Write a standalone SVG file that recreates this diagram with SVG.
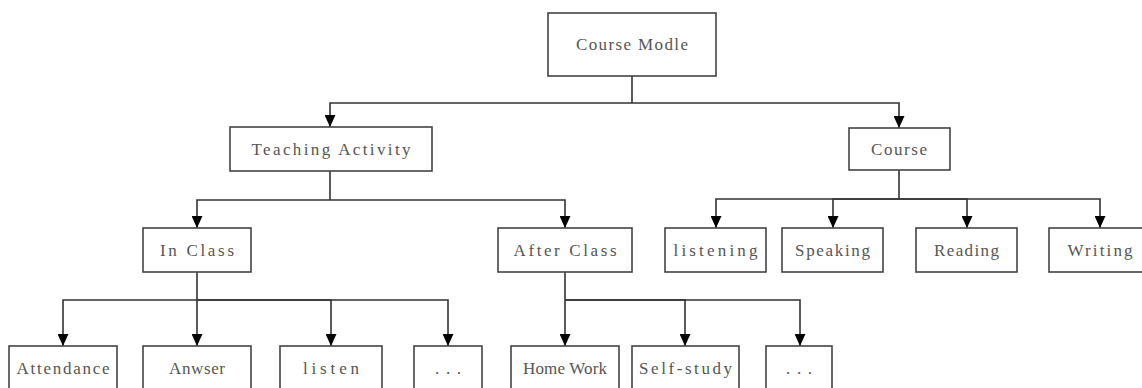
<svg xmlns="http://www.w3.org/2000/svg" width="1142" height="388" viewBox="0 0 1142 388">
<style>
.box rect{fill:#fff;stroke:#444;stroke-width:1.6}
.box text{font-family:"Liberation Serif",serif;font-size:17px;fill:#555;text-anchor:middle;dominant-baseline:central}
.conn path{fill:none;stroke:#333;stroke-width:1.6;marker-end:url(#ah)}
.conn .ln{marker-end:none}
</style>
<defs>
<marker id="ah" markerWidth="12" markerHeight="11" refX="12" refY="5.5" orient="auto" markerUnits="userSpaceOnUse">
<path d="M0,0 L12,5.5 L0,11 Z" fill="#000"/>
</marker>
</defs>
<rect width="1142" height="388" fill="#fff"/>
<g class="conn" id="connectors">
<path class="ln" d="M632,76 V103"/>
<path d="M632,103 H330 V127"/>
<path d="M632,103 H899 V128"/>
<path class="ln" d="M330,171 V200"/>
<path d="M330,200 H197 V228"/>
<path d="M330,200 H565 V228"/>
<path class="ln" d="M899,170 V199"/>
<path d="M899,199 H716 V228"/>
<path d="M899,199 H833 V228"/>
<path d="M899,199 H967 V228"/>
<path d="M899,199 H1100 V228"/>
<path class="ln" d="M197,272 V300"/>
<path d="M197,300 H63 V346"/>
<path d="M197,300 V346"/>
<path d="M197,300 H331 V346"/>
<path d="M197,300 H448 V346"/>
<path class="ln" d="M565,272 V300"/>
<path d="M565,300 V346"/>
<path d="M565,300 H685 V346"/>
<path d="M565,300 H800 V346"/>
</g>
<g class="box" id="n-course-modle"><rect x="548" y="13" width="168" height="63"/><text x="632" y="44" textLength="112" lengthAdjust="spacing">Course Modle</text></g>
<g class="box" id="n-teaching"><rect x="230" y="127" width="202" height="44"/><text x="331" y="149" textLength="159" lengthAdjust="spacing">Teaching Activity</text></g>
<g class="box" id="n-course"><rect x="849" y="128" width="101" height="42"/><text x="899" y="149" textLength="56" lengthAdjust="spacing">Course</text></g>
<g class="box" id="n-inclass"><rect x="143" y="228" width="108" height="44"/><text x="197" y="250" textLength="74" lengthAdjust="spacing">In Class</text></g>
<g class="box" id="n-afterclass"><rect x="498" y="228" width="134" height="44"/><text x="565" y="250" textLength="103" lengthAdjust="spacing">After Class</text></g>
<g class="box" id="n-listening"><rect x="665" y="228" width="101" height="44"/><text x="715.5" y="250" textLength="84" lengthAdjust="spacing">listening</text></g>
<g class="box" id="n-speaking"><rect x="782" y="228" width="101" height="44"/><text x="832.5" y="250" textLength="75" lengthAdjust="spacing">Speaking</text></g>
<g class="box" id="n-reading"><rect x="916" y="228" width="101" height="44"/><text x="966.5" y="250" textLength="65" lengthAdjust="spacing">Reading</text></g>
<g class="box" id="n-writing"><rect x="1049" y="228" width="102" height="44"/><text x="1100" y="250" textLength="65" lengthAdjust="spacing">Writing</text></g>
<g class="box" id="n-attendance"><rect x="9" y="346" width="108" height="46"/><text x="63" y="368" textLength="93" lengthAdjust="spacing">Attendance</text></g>
<g class="box" id="n-anwser"><rect x="143" y="346" width="108" height="46"/><text x="197" y="368" textLength="56" lengthAdjust="spacing">Anwser</text></g>
<g class="box" id="n-listen"><rect x="280" y="346" width="102" height="46"/><text x="331" y="368" textLength="56" lengthAdjust="spacing">listen</text></g>
<g class="box" id="n-dots1"><rect x="414" y="346" width="68" height="46"/><text x="448" y="368" textLength="26" lengthAdjust="spacing">...</text></g>
<g class="box" id="n-homework"><rect x="511" y="346" width="108" height="46"/><text x="565" y="368" textLength="84" lengthAdjust="spacing">Home Work</text></g>
<g class="box" id="n-selfstudy"><rect x="632" y="346" width="107" height="46"/><text x="685.5" y="368" textLength="93" lengthAdjust="spacing">Self-study</text></g>
<g class="box" id="n-dots2"><rect x="766" y="346" width="66" height="46"/><text x="799" y="368" textLength="26" lengthAdjust="spacing">...</text></g>
</svg>
